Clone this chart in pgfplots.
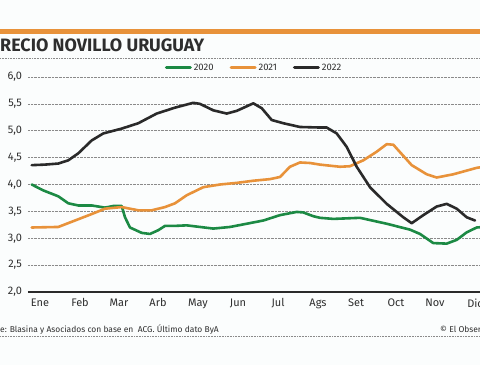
\documentclass[border=0pt]{standalone}
\usepackage{pgfplots}
\pgfplotsset{compat=1.18}
\usepackage{fontspec}
\setmainfont{Fira Sans}
\definecolor{cgreen}{HTML}{1C8A44}
\definecolor{corange}{HTML}{E8923A}
\definecolor{cblack}{HTML}{2A2A2A}
\definecolor{ctext}{HTML}{2E2E2E}
\definecolor{cgrid}{HTML}{8A8A8A}
\definecolor{cbg}{HTML}{FBFDFD}
\begin{document}
\begin{tikzpicture}
\useasboundingbox (0bp,0bp) rectangle (480bp,365bp);
\clip (0bp,0bp) rectangle (480bp,365bp);
\fill[cbg] (0bp,0bp) rectangle (480bp,365bp);
% top orange band
\fill[corange] (0bp,331bp) rectangle (480bp,336bp);
% title
\node[anchor=base east,inner sep=0pt,text=ctext,font=\bfseries\fontsize{18}{18}\selectfont] at (0bp,313bp) {P};
\node[anchor=base west,inner sep=0pt,text=ctext,font=\bfseries\fontsize{18}{18}\selectfont] at (0bp,313bp) {RECIO NOVILLO URUGUAY};
\draw[cgrid,densely dotted,line width=0.6bp] (0bp,307bp) -- (480bp,307bp);
% source
\node[anchor=base east,inner sep=0pt,text=ctext,font=\fontsize{8.5}{8.5}\selectfont] at (0bp,33bp) {Fuent};
\node[anchor=base west,inner sep=0pt,text=ctext,font=\fontsize{8.5}{8.5}\selectfont] at (0bp,33bp) {e: Blasina y Asociados con base en\ \ ACG. Último dato ByA};
\node[anchor=base west,inner sep=0pt,text=ctext,font=\fontsize{8.5}{8.5}\selectfont] at (440bp,33bp) {© El Observador};
\draw[cgrid,densely dotted,line width=0.6bp] (0bp,28.5bp) -- (480bp,28.5bp);
\begin{axis}[
  at={(28bp,73bp)}, anchor=south west,
  scale only axis, width=452bp, height=215bp,
  xmin=28, xmax=480, ymin=2, ymax=6,
  axis x line=bottom, axis y line=left,
  y axis line style={draw=none},
  x axis line style={cblack,line width=1.4bp,-},
  ytick={2,2.5,...,6},
  xtick={40,80,119,158,198,238,278,318,356,396,435,475},
  xticklabels={Ene,Feb,Mar,Arb,May,Jun,Jul,Ags,Set,Oct,Nov,Dic},
  major tick length=0pt,
  ymajorgrids, grid style={cgrid,densely dotted,line width=0.6bp},
  tick label style={text=ctext,font=\fontsize{11}{11}\selectfont},
  yticklabel style={xshift=-2.5bp},
  xticklabel style={yshift=-3bp},
  /pgf/number format/.cd, fixed, fixed zerofill, precision=1, use comma, assume math mode=true,
  /pgfplots/.cd,
  legend columns=3,
  legend style={at={(0.50,1.042)}, anchor=center, draw=none, fill=none,
    font=\fontsize{9.5}{9.5}\selectfont, text=ctext,
    /tikz/every even column/.append style={column sep=14bp}},
  legend image code/.code={\draw[#1,line width=3bp] (0bp,0bp) -- (24bp,0bp);},
  every axis plot/.append style={line width=2.6bp, line join=round, line cap=round},
]
\addplot[cgreen] coordinates {(31.7,4.00) (43.3,3.89) (58.3,3.78) (68.3,3.65) (78.3,3.61) (91.7,3.61) (105,3.57) (113.3,3.60) (121.7,3.60) (125,3.39) (130,3.20) (141.7,3.10) (150,3.08) (158.3,3.15) (165,3.23) (175,3.23) (186.7,3.24) (213.3,3.18) (230,3.21) (246.7,3.27) (263.3,3.33) (280,3.43) (296.7,3.49) (303.3,3.48) (313.3,3.41) (320,3.38) (333.3,3.36) (360,3.38) (386.7,3.27) (410,3.16) (420,3.08) (433.3,2.91) (446.7,2.90) (456.7,2.97) (466.7,3.11) (476.7,3.20) (484,3.21)};
\addlegendentry{2020}
\addplot[corange] coordinates {(31.7,3.20) (58.3,3.21) (75,3.33) (91.7,3.45) (105,3.55) (121.7,3.58) (138.3,3.52) (151.7,3.52) (165,3.58) (175,3.65) (186.7,3.80) (203.3,3.95) (220,4.00) (236.7,4.03) (253.3,4.07) (270,4.10) (280,4.14) (290,4.33) (300,4.41) (310,4.40) (320,4.37) (340,4.33) (350,4.34) (363.3,4.45) (376.7,4.61) (386.7,4.75) (393.3,4.74) (411.7,4.36) (426.7,4.19) (436.7,4.13) (453.3,4.19) (476.7,4.31) (484,4.33)};
\addlegendentry{2021}
\addplot[cblack] coordinates {(31.7,4.36) (45,4.37) (58.3,4.39) (68.3,4.45) (78.3,4.58) (91.7,4.82) (103.3,4.95) (121.7,5.04) (138.3,5.14) (156.7,5.32) (175,5.43) (193.3,5.52) (200,5.50) (213.3,5.38) (226.7,5.32) (236.7,5.37) (253.3,5.51) (261.7,5.42) (271.7,5.20) (283.3,5.14) (300,5.07) (320,5.06) (326.7,5.06) (336.7,4.95) (346.7,4.70) (356.7,4.33) (370,3.95) (386.7,3.64) (403.3,3.39) (411.7,3.28) (423.3,3.43) (436.7,3.59) (446.7,3.64) (456.7,3.55) (466.7,3.39) (475,3.33)};
\addlegendentry{2022}
\end{axis}
\end{tikzpicture}
\end{document}
